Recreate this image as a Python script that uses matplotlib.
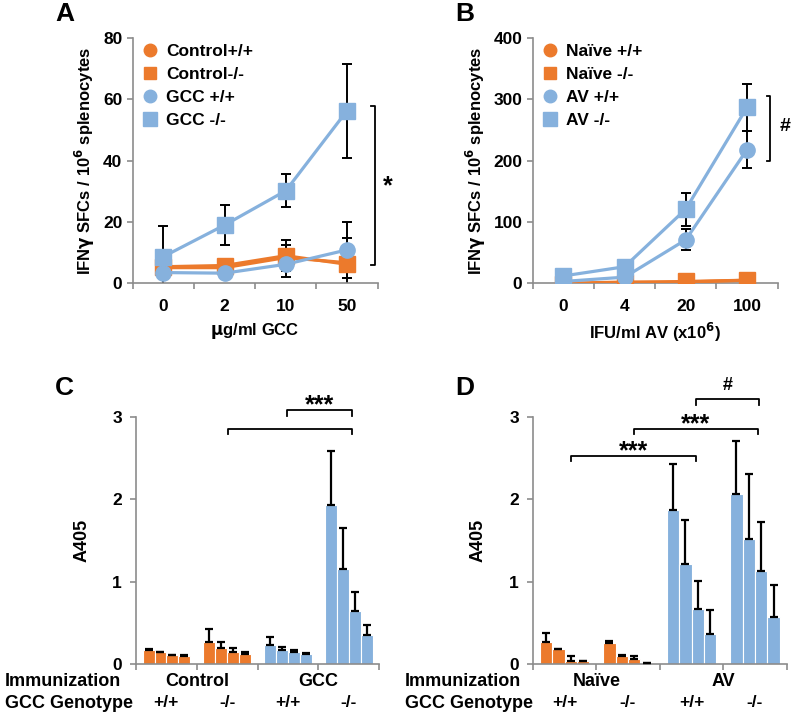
import matplotlib
matplotlib.use("Agg")
import matplotlib.pyplot as plt
from matplotlib.lines import Line2D
import numpy as np

plt.rcParams['font.family'] = ['Liberation Sans', 'DejaVu Sans']
plt.rcParams['font.weight'] = 'bold'
plt.rcParams['mathtext.default'] = 'bf'

ORANGE = '#EC7A2C'
BLUE = '#86B1DD'
SPINE = '#8C8C8C'

# ---------------- Panel A data ----------------
a_doses = ['0', '2', '10', '50']
a_ctrl_wt = [5.1, 5.1, 8.4, 6.7]
a_ctrl_wt_err = [1.0, 1.0, 4.0, 8.2]
a_ctrl_ko = [5.4, 5.8, 9.0, 6.2]
a_ctrl_ko_err = [1.0, 1.5, 5.0, 4.5]
a_gcc_wt = [3.5, 3.3, 6.2, 10.9]
a_gcc_wt_err = [1.0, 1.0, 4.2, 9.2]
a_gcc_ko = [8.7, 19.0, 30.2, 56.3]
a_gcc_ko_err = [10.0, 6.5, 5.3, 15.3]

# ---------------- Panel B data ----------------
b_doses = ['0', '4', '20', '100']
b_naive_wt = [0, 2, 2, 5]
b_naive_ko = [-1, 1, 3, 5]
b_av_wt = [3, 10, 71, 218]
b_av_wt_err = [1, 2, 17, 30]
b_av_ko = [12, 27, 121, 287]
b_av_ko_err = [2, 3, 27, 38]

# ---------------- Panel C data ----------------
c_groups = ['Control +/+', 'Control -/-', 'GCC +/+', 'GCC -/-']
c_vals = [[0.17, 0.14, 0.11, 0.10],
          [0.27, 0.19, 0.15, 0.12],
          [0.23, 0.17, 0.15, 0.12],
          [1.93, 1.15, 0.64, 0.35]]
c_errs = [[0.01, 0.005, 0.005, 0.005],
          [0.15, 0.08, 0.05, 0.02],
          [0.10, 0.04, 0.02, 0.01],
          [0.66, 0.50, 0.23, 0.12]]
c_imm = ['Control', 'GCC']

# ---------------- Panel D data ----------------
d_groups = ['Naïve +/+', 'Naïve -/-', 'AV +/+', 'AV -/-']
d_vals = [[0.27, 0.18, 0.04, 0.035],
          [0.26, 0.10, 0.06, 0.01],
          [1.87, 1.22, 0.67, 0.36],
          [2.07, 1.52, 1.13, 0.57]]
d_errs = [[0.11, 0.005, 0.06, 0.005],
          [0.02, 0.005, 0.04, 0.002],
          [0.56, 0.53, 0.34, 0.29],
          [0.64, 0.79, 0.59, 0.39]]
d_imm = ['Naïve', 'AV']
genotypes = ['+/+', '-/-', '+/+', '-/-']

fig = plt.figure(figsize=(8.0, 7.19), dpi=100)

TICK_FS = 12.5
LAB_FS = 12


def style_axes(ax):
    for s in ['top', 'right']:
        ax.spines[s].set_visible(False)
    for s in ['left', 'bottom']:
        ax.spines[s].set_color(SPINE)
        ax.spines[s].set_linewidth(1.2)
    ax.tick_params(axis='both', which='major', colors=SPINE, length=4,
                   width=1.2, labelsize=TICK_FS, labelcolor='black')
    for lab in ax.get_yticklabels() + ax.get_xticklabels():
        lab.set_fontweight('bold')


def line_panel(ax, cats, series, ylim, yticks, xlabel, legend_labels):
    x = np.arange(len(cats))
    for vals, errs, color, marker, ms in series:
        ax.plot(x, vals, color=color, lw=2.3, marker=marker, ms=ms,
                mfc=color, mec=color, zorder=3)
        if errs is not None:
            ax.errorbar(x, vals, yerr=errs, fmt='none', ecolor='black',
                        elinewidth=1.4, capsize=3.5, capthick=1.4, zorder=2)
    ax.set_xlim(-0.5, len(cats) - 0.5)
    ax.set_ylim(*ylim)
    ax.set_yticks(yticks)
    bounds = np.arange(-0.5, len(cats))
    ax.set_xticks(bounds)
    ax.set_xticklabels([''] * len(bounds))
    ax.set_xticks(x, minor=True)
    ax.set_xticklabels(cats, minor=True)
    ax.tick_params(axis='x', which='minor', length=0, pad=11,
                   labelsize=TICK_FS)
    style_axes(ax)
    for lab in ax.get_xticklabels(minor=True):
        lab.set_fontweight('bold')
    ax.set_ylabel(r'IFN$\gamma$ SFCs / 10$^{6}$ splenocytes', fontsize=LAB_FS,
                  fontweight='bold', labelpad=4)
    ax.set_xlabel(xlabel, fontsize=LAB_FS, fontweight='bold', labelpad=5)
    handles = [Line2D([], [], ls='none', marker=m, ms=ms - 2, color=c)
               for (_, _, c, m, ms) in series]
    ax.legend(handles, legend_labels, loc='upper left',
              bbox_to_anchor=(-0.02, 1.04), frameon=False, handlelength=0.8,
              handletextpad=0.5, labelspacing=0.45,
              prop={'weight': 'bold', 'size': 12.5})


# Panel A
axA = fig.add_axes([0.166, 0.606, 0.306, 0.341])
line_panel(axA, a_doses,
           [(a_ctrl_wt, a_ctrl_wt_err, ORANGE, 'o', 11),
            (a_ctrl_ko, a_ctrl_ko_err, ORANGE, 's', 11),
            (a_gcc_wt, a_gcc_wt_err, BLUE, 'o', 11),
            (a_gcc_ko, a_gcc_ko_err, BLUE, 's', 12)],
           (0, 80), [0, 20, 40, 60, 80], r'$\mu$g/ml GCC',
           ['Control+/+', 'Control-/-', 'GCC +/+', 'GCC -/-'])
axA.plot([3.40, 3.45, 3.45, 3.40], [57.9, 57.9, 6.0, 6.0], color='black',
         lw=1.3, clip_on=False)
axA.text(3.66, 31.6, '*', fontsize=18, fontweight='bold', ha='center',
         va='center', clip_on=False)

# Panel B
axB = fig.add_axes([0.666, 0.606, 0.306, 0.341])
line_panel(axB, b_doses,
           [(b_naive_wt, None, ORANGE, 'o', 11),
            (b_naive_ko, None, ORANGE, 's', 11),
            (b_av_wt, b_av_wt_err, BLUE, 'o', 11),
            (b_av_ko, b_av_ko_err, BLUE, 's', 12)],
           (0, 400), [0, 100, 200, 300, 400], r'IFU/ml AV (x10$^{6}$)',
           ['Naïve +/+', 'Naïve -/-', 'AV +/+', 'AV -/-'])
axB.plot([3.32, 3.37, 3.37, 3.32], [306, 306, 200, 200], color='black',
         lw=1.3, clip_on=False)
axB.text(3.62, 256, '#', fontsize=14, fontweight='bold', ha='center',
         va='center', clip_on=False)


def bar_panel(ax, vals, errs, imm, brackets):
    w = 0.195
    colors = [ORANGE, ORANGE, BLUE, BLUE]
    for g, (gv, ge) in enumerate(zip(vals, errs)):
        xs = g + 0.5 + (np.arange(4) - 1.5) * w
        ax.bar(xs, gv, width=w, color=colors[g], edgecolor='white',
               linewidth=0.8, zorder=2)
        ax.errorbar(xs, gv, yerr=[np.zeros(4), ge], fmt='none',
                    ecolor='black', elinewidth=1.6, capsize=3,
                    capthick=1.6, zorder=3)
    ax.set_xlim(0, 4)
    ax.set_ylim(0, 3)
    ax.set_yticks([0, 1, 2, 3])
    ax.set_xticks([0, 1, 2, 3, 4])
    ax.set_xticklabels([''] * 5)
    style_axes(ax)
    ax.tick_params(axis='y', pad=6)
    ax.set_ylabel('A405', fontsize=LAB_FS + 1, fontweight='bold', labelpad=16)
    trans = ax.get_xaxis_transform()
    for i, lab in enumerate(imm):
        ax.text(2 * i + 1, -0.07, lab, transform=trans, ha='center',
                va='center', fontsize=13, fontweight='bold', clip_on=False)
    for g, lab in enumerate(genotypes):
        ax.text(g + 0.5, -0.155, lab, transform=trans, ha='center',
                va='center', fontsize=12.5, fontweight='bold', clip_on=False)
    for x0, x1, y, txt, ty, fs in brackets:
        ax.plot([x0, x0, x1, x1], [y - 0.07, y, y, y - 0.07], color='black',
                lw=1.3, clip_on=False)
        if txt:
            ax.text((x0 + x1) / 2, ty, txt, ha='center', va='center',
                    fontsize=fs, fontweight='bold', clip_on=False)


# Panel C
axC = fig.add_axes([0.170, 0.0765, 0.304, 0.3435])
bar_panel(axC, c_vals, c_errs, c_imm,
          [(2.49, 3.56, 3.08, '***', 3.14, 18),
           (1.51, 3.56, 2.86, '', 0, 10)])

# Panel D
axD = fig.add_axes([0.666, 0.0765, 0.3175, 0.3435])
bar_panel(axD, d_vals, d_errs, d_imm,
          [(0.60, 2.57, 2.53, '***', 2.58, 18),
           (1.59, 3.54, 2.86, '***', 2.91, 18),
           (2.57, 3.57, 3.22, '#', 3.38, 13)])

for xf in (0.006, 0.506):
    fig.text(xf, 1 - 682 / 719, 'Immunization', fontsize=13,
             fontweight='bold', va='center', ha='left')
    fig.text(xf, 1 - 703 / 719, 'GCC Genotype', fontsize=13,
             fontweight='bold', va='center', ha='left')

# Panel letters
for lab, x, y in [('A', 55, 14), ('B', 455, 14), ('C', 55, 388), ('D', 455, 388)]:
    fig.text(x / 800, 1 - y / 719, lab, fontsize=19, fontweight='bold',
             ha='left', va='center')

fig.savefig('out.png', dpi=100)
